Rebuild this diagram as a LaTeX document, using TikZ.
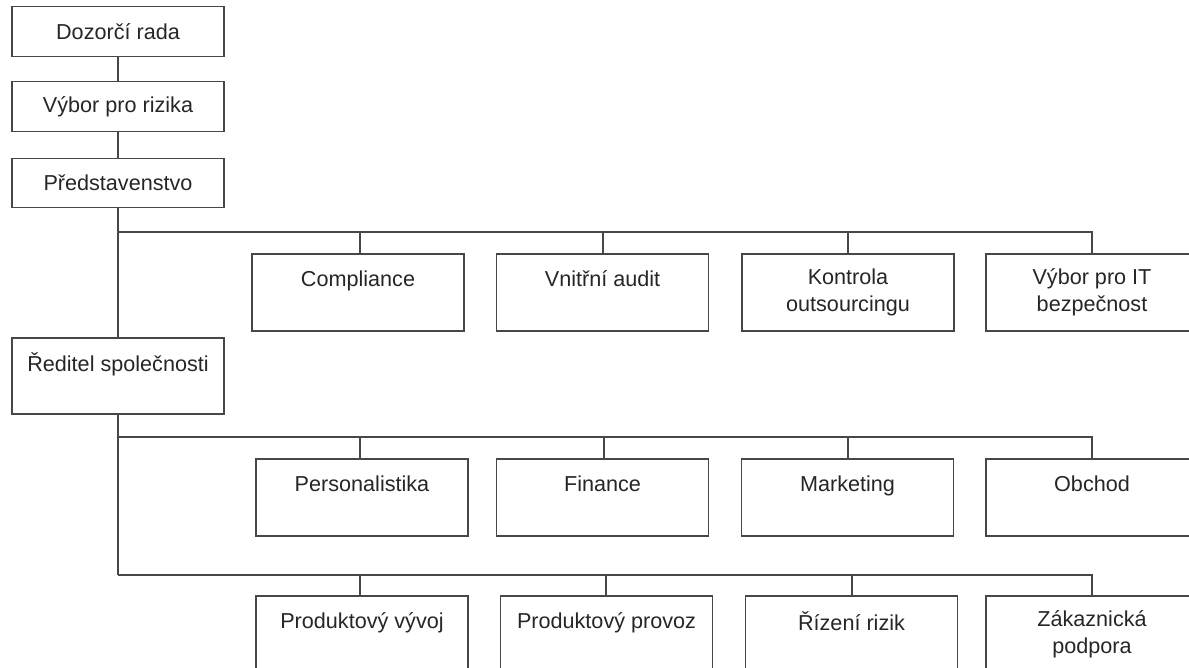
\documentclass[tikz,border=0pt]{standalone}
\usepackage{fontspec}
\setmainfont{Liberation Sans}
\begin{document}
\begin{tikzpicture}[x=0.02cm,y=-0.02cm,
		    box/.style={draw=black!72,line width=0.65pt,minimum width=4.24cm,minimum height=1.54cm,
		                inner sep=0pt,align=center,text=black!85,font=\fontsize{12.3}{15.4}\selectfont},
		    topbox/.style={box,minimum height=0.99cm},
		    link/.style={draw=black!72,line width=0.65pt}]
	\useasboundingbox (0,0) rectangle (1189,668);
	\clip (0,0) rectangle (1189,668);
	\node[topbox] (dozor) at (118,31.5) {Dozorčí rada};
	\node[topbox] (vybor) at (118,106.5) {Výbor pro rizika};
	\node[topbox] (predst) at (118,183) {Představenstvo};
	\node[box,minimum height=1.52cm] (reditel) at (118,376) {Ředitel společnosti\\~};
	\node[box] (compl) at (358,292.5) {Compliance\\~};
	\node[box] (audit) at (602.5,292.5) {Vnitřní audit\\~};
	\node[box] (outs) at (848,292.5) {Kontrola\\outsourcingu};
	\node[box] (itsec) at (1092,292.5) {Výbor pro IT\\bezpečnost};
	\node[box] (pers) at (362,497.5) {Personalistika\\~};
	\node[box] (fin) at (602.5,497.5) {Finance\\~};
	\node[box] (mark) at (847.5,497.5) {Marketing\\~};
	\node[box] (obch) at (1092,497.5) {Obchod\\~};
	\node[box] (vyvoj) at (362,634.5) {Produktový vývoj\\~};
	\node[box] (provoz) at (606.5,634.5) {Produktový provoz\\~};
	\node[box] (rizeni) at (851.5,634.5) {Řízení rizik\\~};
	\node[box] (podp) at (1092,634.5) {Zákaznická\\podpora};
	\coordinate (bus1) at (118,232);
	\coordinate (bus2) at (118,437);
	\coordinate (bus3) at (118,575);
	\draw[link] (dozor) -- (vybor);
	\draw[link] (vybor) -- (predst);
	\draw[link] (predst) -- (reditel);
	\draw[link] (reditel) -- (bus3);
	\foreach \n/\xx in {compl/360,audit/603,outs/848,itsec/1092}
	  \draw[link] (bus1) -| (\n.north -| \xx,0);
	\foreach \n/\xx in {pers/360,fin/604,mark/848,obch/1092}
	  \draw[link] (bus2) -| (\n.north -| \xx,0);
	\foreach \n/\xx in {vyvoj/360,provoz/606,rizeni/852,podp/1092}
	  \draw[link] (bus3) -| (\n.north -| \xx,0);
\end{tikzpicture}
\end{document}
